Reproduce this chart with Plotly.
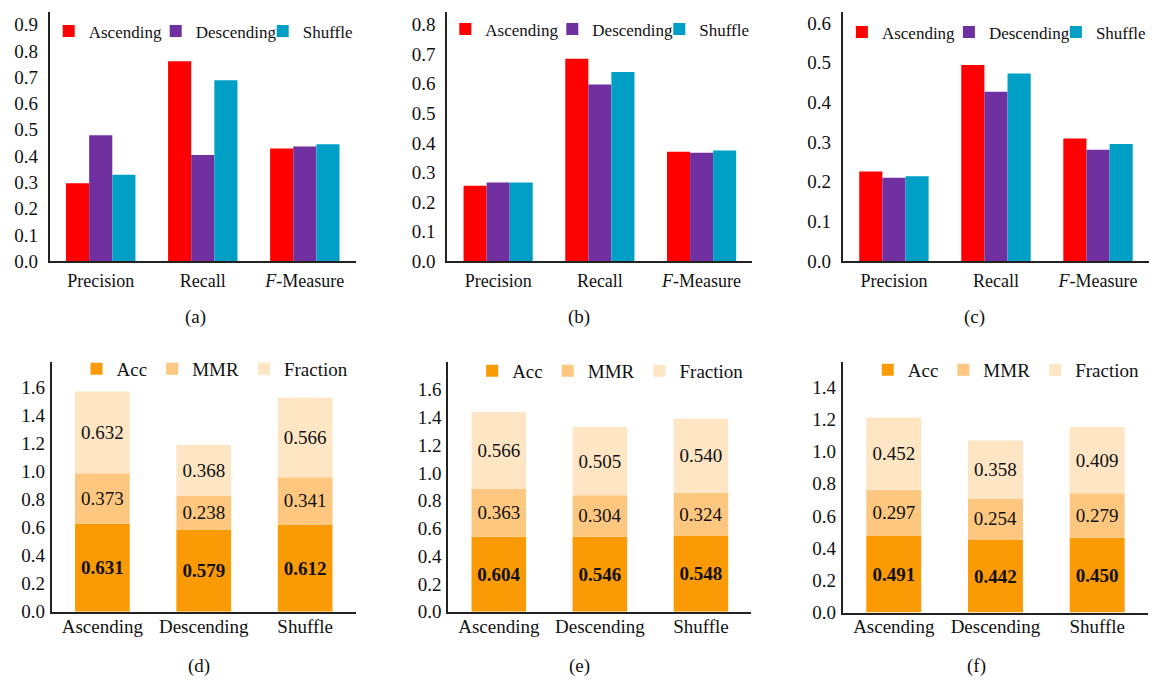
import plotly.graph_objects as go

# ---------------- data ----------------
metrics = ["Precision", "Recall", "F-Measure"]
metric_ticktext = ["Precision", "Recall", "<i>F</i>-Measure"]
orders = ["Ascending", "Descending", "Shuffle"]

# top row (a), (b), (c): grouped bars per metric
a_asc = [0.297, 0.761, 0.429]
a_desc = [0.479, 0.404, 0.437]
a_shuf = [0.329, 0.689, 0.445]

b_asc = [0.255, 0.684, 0.370]
b_desc = [0.266, 0.597, 0.367]
b_shuf = [0.266, 0.640, 0.374]

c_asc = [0.226, 0.494, 0.309]
c_desc = [0.210, 0.427, 0.281]
c_shuf = [0.214, 0.473, 0.295]

# bottom row (d), (e), (f): stacked bars (drawn heights) and printed labels
stack_names = ["Acc", "MMR", "Fraction"]

d_acc = [0.628, 0.588, 0.623]
d_mmr = [0.361, 0.239, 0.338]
d_frac = [0.585, 0.366, 0.567]
d_acc_lbl = ["0.631", "0.579", "0.612"]
d_mmr_lbl = ["0.373", "0.238", "0.341"]
d_frac_lbl = ["0.632", "0.368", "0.566"]

e_acc = [0.540, 0.540, 0.545]
e_mmr = [0.344, 0.299, 0.313]
e_frac = [0.554, 0.492, 0.532]
e_acc_lbl = ["0.604", "0.546", "0.548"]
e_mmr_lbl = ["0.363", "0.304", "0.324"]
e_frac_lbl = ["0.566", "0.505", "0.540"]

f_acc = [0.478, 0.454, 0.464]
f_mmr = [0.285, 0.254, 0.277]
f_frac = [0.448, 0.360, 0.411]
f_acc_lbl = ["0.491", "0.442", "0.450"]
f_mmr_lbl = ["0.297", "0.254", "0.279"]
f_frac_lbl = ["0.452", "0.358", "0.409"]

captions = ["(a)", "(b)", "(c)", "(d)", "(e)", "(f)"]

# ---------------- style ----------------
W, H = 1163, 689
FONT = "'Times New Roman', 'Liberation Serif', serif"
TXT = "#111111"
AXC = "#222222"
top_colors = ["#FF0000", "#7030A0", "#00A0C6"]
stack_colors = ["#FA9A05", "#FDC77F", "#FEE5C3"]


def fx(p):
    return p / W


def fy(p):
    return 1 - p / H


fig = go.Figure()

top_panels = [
    dict(data=[a_asc, a_desc, a_shuf], xd=(50, 358), yrange=0.949, dtick=0.1,
         leg=(49, 32), cap=(197, 322)),
    dict(data=[b_asc, b_desc, b_shuf], xd=(450, 757), yrange=0.843, dtick=0.1,
         leg=(448, 30), cap=(583, 322)),
    dict(data=[c_asc, c_desc, c_shuf], xd=(848, 1156), yrange=0.628, dtick=0.1,
         leg=(847, 33), cap=(980, 322)),
]
bottom_panels = [
    dict(vals=[d_acc, d_mmr, d_frac], lbls=[d_acc_lbl, d_mmr_lbl, d_frac_lbl],
         xd=(52, 358), ybot=621.7, yrange=1.781, leg=(77, 375), cap=(200, 677)),
    dict(vals=[e_acc, e_mmr, e_frac], lbls=[e_acc_lbl, e_mmr_lbl, e_frac_lbl],
         xd=(451, 756), ybot=621.7, yrange=1.795, leg=(475, 377), cap=(583, 677)),
    dict(vals=[f_acc, f_mmr, f_frac], lbls=[f_acc_lbl, f_mmr_lbl, f_frac_lbl],
         xd=(848, 1155), ybot=622.5, yrange=1.553, leg=(873, 376), cap=(982, 677)),
]

layout = dict(
    width=W, height=H,
    margin=dict(l=0, r=0, t=0, b=0),
    paper_bgcolor="white", plot_bgcolor="white",
    barmode="group", bargap=0.32, bargroupgap=0.0,
    font=dict(family=FONT, color=TXT, size=18),
    annotations=[],
)


def axis_common():
    return dict(showline=True, linecolor=AXC, linewidth=2, ticks="",
                showgrid=False, zeroline=False, fixedrange=True)


idx = 0
for p in top_panels:
    idx += 1
    xs = "" if idx == 1 else str(idx)
    lg = "legend" if idx == 1 else "legend%d" % idx
    for name, vals, col in zip(orders, p["data"], top_colors):
        fig.add_trace(go.Bar(x=metrics, y=vals, name=name, marker_color=col,
                             marker_line_width=0, xaxis="x" + xs, yaxis="y" + xs,
                             legend=lg, hoverinfo="skip"))
    xa = axis_common()
    xa.update(domain=[fx(p["xd"][0]), fx(p["xd"][1])], anchor="y" + xs,
              tickvals=metrics, ticktext=metric_ticktext,
              tickfont=dict(size=18, family=FONT, color=TXT), ticklabelstandoff=2)
    ya = axis_common()
    ya.update(domain=[fy(265.5), fy(12)], anchor="x" + xs,
              range=[0, p["yrange"]], dtick=p["dtick"], tick0=0, tickformat=".1f",
              tickfont=dict(size=19, family=FONT, color=TXT), ticklabelstandoff=6)
    layout["xaxis" + xs] = xa
    layout["yaxis" + xs] = ya
    layout[lg] = dict(orientation="h", x=fx(p["leg"][0]), y=fy(p["leg"][1]),
                      xanchor="left", yanchor="middle", bgcolor="rgba(0,0,0,0)",
                      font=dict(size=17, family=FONT, color=TXT),
                      entrywidth=62, entrywidthmode="pixels", traceorder="normal")
    layout["annotations"].append(dict(text=captions[idx - 1], x=fx(p["cap"][0]),
                                      y=fy(p["cap"][1]), xref="paper", yref="paper",
                                      showarrow=False, xanchor="center", yanchor="middle",
                                      font=dict(size=19, family=FONT, color=TXT)))

for p in bottom_panels:
    idx += 1
    xs = str(idx)
    lg = "legend%d" % idx
    base = [0.0, 0.0, 0.0]
    for k, (name, vals, lbl, col) in enumerate(zip(stack_names, p["vals"], p["lbls"], stack_colors)):
        tmpl = "<b>%{text}</b>" if k == 0 else "%{text}"
        fig.add_trace(go.Bar(x=orders, y=vals, base=list(base), name=name,
                             marker_color=col, marker_line_width=0,
                             width=0.54, offset=-0.27,
                             text=lbl, texttemplate=tmpl, textposition="inside",
                             insidetextanchor="middle", textangle=0, constraintext="none",
                             textfont=dict(size=19, family=FONT, color="#111111"),
                             xaxis="x" + xs, yaxis="y" + xs, legend=lg, hoverinfo="skip"))
        base = [b + v for b, v in zip(base, vals)]
    xa = axis_common()
    xa.update(domain=[fx(p["xd"][0]), fx(p["xd"][1])], anchor="y" + xs,
              tickfont=dict(size=19, family=FONT, color=TXT), ticklabelstandoff=-4)
    ya = axis_common()
    ya.update(domain=[fy(p["ybot"]), fy(368.3)], anchor="x" + xs,
              range=[0, p["yrange"]], dtick=0.2, tick0=0, tickformat=".1f",
              tickfont=dict(size=19, family=FONT, color=TXT), ticklabelstandoff=1)
    layout["xaxis" + xs] = xa
    layout["yaxis" + xs] = ya
    layout[lg] = dict(orientation="h", x=fx(p["leg"][0]), y=fy(p["leg"][1]),
                      xanchor="left", yanchor="middle", bgcolor="rgba(0,0,0,0)",
                      font=dict(size=19, family=FONT, color=TXT), traceorder="normal")
    layout["annotations"].append(dict(text=captions[idx - 1], x=fx(p["cap"][0]),
                                      y=fy(p["cap"][1]), xref="paper", yref="paper",
                                      showarrow=False, xanchor="center", yanchor="middle",
                                      font=dict(size=19, family=FONT, color=TXT)))

fig.update_layout(**layout)
fig.write_html("out.html")
